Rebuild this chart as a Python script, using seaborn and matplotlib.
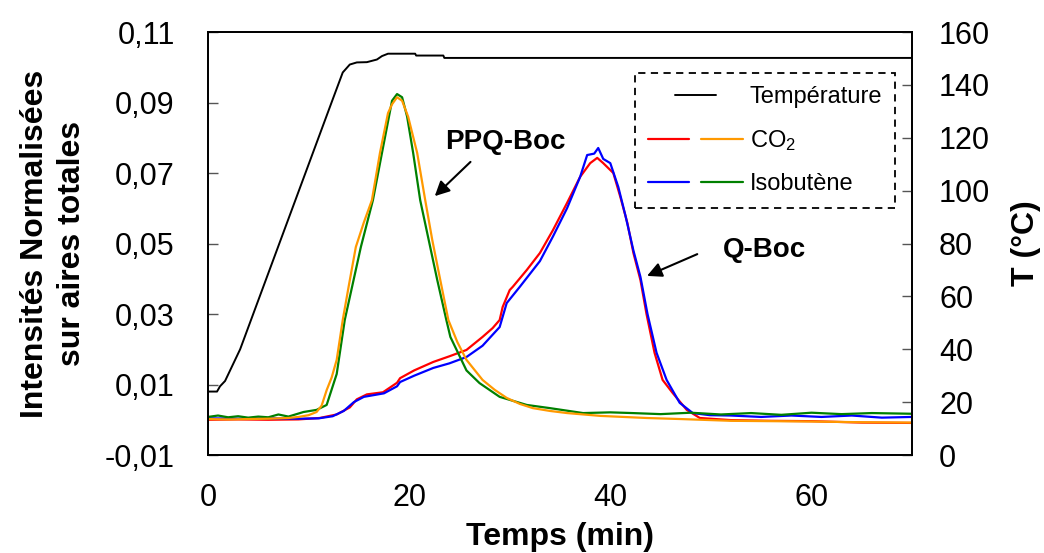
import matplotlib
matplotlib.use('Agg')
import matplotlib.pyplot as plt
import seaborn as sns
from matplotlib.lines import Line2D
from matplotlib.legend_handler import HandlerTuple, HandlerLine2D
from matplotlib.ticker import FuncFormatter

# temperature program (right axis, degC)
t_temp = [0, 0.9, 1.2, 1.7, 2.2, 2.7, 3.2, 12.4, 13.4, 14.1, 14.8, 15.8, 16.8, 17.3,
          17.9, 20.6, 20.7, 23.4, 23.5, 70]
temp = [24, 24, 26, 28, 32, 36, 40, 134.5, 144.7, 147.7, 148.5, 148.6, 149.6, 150.9,
        151.8, 151.8, 151.1, 151.1, 150.2, 150.2]

# CO2 from Q-Boc (red)
t_co2_q = [0, 3, 6, 9, 11.1, 12.8, 14.1, 14.8, 15.8, 17.4, 18.8, 19.1, 20.5, 22.4, 24,
           25.7, 27.3, 28.3, 29, 29.3, 30, 30.3, 31.7, 33, 34.3, 35.7, 37, 38, 38.7,
           39.3, 40.3, 41, 41.7, 42.3, 43, 43.6, 44.4, 45.2, 46.2, 47.6, 48.9, 52, 56,
           60, 65, 70]
co2_q = [0.0, 0.0001, 0.0, 0.0001, 0.0005, 0.0015, 0.0035, 0.0058, 0.0072, 0.0078,
         0.0105, 0.0118, 0.014, 0.0164, 0.018, 0.0198, 0.0235, 0.026, 0.0283, 0.032,
         0.0368, 0.0377, 0.0425, 0.0473, 0.0538, 0.0615, 0.0689, 0.0728, 0.0743, 0.0728,
         0.070, 0.0632, 0.0558, 0.0473, 0.0396, 0.030, 0.019, 0.0113, 0.0076, 0.0028,
         0.0005, -0.0001, -0.0003, -0.0004, -0.0008, -0.0009]

# isobutene from Q-Boc (blue)
t_iso_q = [0, 3, 6, 9, 11, 12.4, 13.5, 14.5, 15.5, 16.5, 17.5, 18.8, 19.1, 20.5, 22.4,
           24, 25.7, 27.3, 29, 29.7, 31, 33, 34.3, 35.7, 37, 37.7, 38.4, 38.8, 39.3, 40,
           40.8, 41.5, 42.3, 43, 43.7, 44.6, 45.6, 46.9, 48.2, 49.9, 52, 55, 58, 61, 64,
           67, 70]
iso_q = [0.0004, 0.0003, 0.0004, 0.0003, 0.0004, 0.001, 0.0025, 0.005, 0.0065, 0.007,
         0.0075, 0.0095, 0.0107, 0.0125, 0.0147, 0.016, 0.0178, 0.021, 0.0263, 0.0331,
         0.0377, 0.045, 0.052, 0.060, 0.0689, 0.0751, 0.0755, 0.0771, 0.074, 0.0728,
         0.066, 0.058, 0.048, 0.0405, 0.030, 0.019, 0.0113, 0.0048, 0.0019, 0.0013,
         0.0012, 0.0008, 0.0012, 0.0008, 0.0012, 0.0006, 0.0008]

# CO2 from PPQ-Boc (orange)
t_co2_p = [0, 2, 4, 6, 8, 9, 10, 10.8, 11.3, 11.8, 12.3, 12.8, 13.4, 14.0, 14.7, 15.5,
           16.3, 17.1, 17.9, 18.3, 18.8, 19.3, 19.9, 20.8, 21.6, 22.3, 23.1, 23.9, 24.8,
           25.7, 27.3, 28.5, 29.7, 31, 32.3, 34, 35.7, 39, 43.6, 47, 52, 60, 65, 70]
co2_p = [0.0002, 0.0001, 0.0002, 0.0003, 0.0005, 0.0008, 0.0013, 0.0022, 0.004, 0.0084,
         0.012, 0.017, 0.0283, 0.038, 0.049, 0.056, 0.0623, 0.0757, 0.087, 0.0895,
         0.0915, 0.0905, 0.086, 0.0757, 0.0623, 0.051, 0.0396, 0.0283, 0.022, 0.017,
         0.0113, 0.0085, 0.0062, 0.0045, 0.0033, 0.0025, 0.0019, 0.0011, 0.0005, 0.0002,
         -0.0003, -0.0005, -0.0007, -0.0008]

# isobutene from PPQ-Boc (green)
t_iso_p = [0, 1, 2, 3, 4, 5, 6, 7, 8, 9.5, 10.8, 11.8, 12.8, 13.6, 15.2, 16.4, 17.3,
           18.3, 18.8, 19.3, 19.8, 20.4, 21.1, 22.8, 23.7, 24.1, 25.7, 27, 29, 31.7, 34,
           37.3, 40, 42.2, 45, 48, 51, 54, 57, 60, 63, 66, 70]
iso_p = [0.0008, 0.0012, 0.0007, 0.001, 0.0006, 0.0009, 0.0007, 0.0015, 0.0009, 0.0022,
         0.0028, 0.0042, 0.013, 0.0283, 0.049, 0.0623, 0.0757, 0.0905, 0.0924, 0.0915,
         0.086, 0.0757, 0.0623, 0.0396, 0.0283, 0.0235, 0.014, 0.0104, 0.0065, 0.0042,
         0.0033, 0.0019, 0.0021, 0.0019, 0.0016, 0.002, 0.0015, 0.0019, 0.0014, 0.002,
         0.0016, 0.0019, 0.0017]

left_ticks = [-0.01, 0.01, 0.03, 0.05, 0.07, 0.09, 0.11]
right_ticks = [0, 20, 40, 60, 80, 100, 120, 140, 160]
x_ticks = [0, 20, 40, 60]


class ShortLine(HandlerLine2D):
    # shorter legend line, centred in the handle box
    def create_artists(self, legend, orig_handle, xdescent, ydescent, width, height, fontsize, trans):
        w = 0.43 * width
        return super().create_artists(legend, orig_handle, xdescent - (width - w) / 2,
                                      ydescent, w, height, fontsize, trans)


sns.set_style('white')
plt.rcParams['font.family'] = ['Liberation Sans', 'DejaVu Sans']
plt.rcParams['mathtext.default'] = 'regular'
plt.rcParams['text.color'] = 'black'
plt.rcParams['axes.labelcolor'] = 'black'

fig = plt.figure(figsize=(10.44, 5.53), dpi=100)
ax = fig.add_axes([0.1992, 0.1772, 0.6744, 0.7649])
ax2 = ax.twinx()

lw = 1.6
sns.lineplot(x=t_co2_q, y=co2_q, ax=ax, color='#ff0000', lw=lw, legend=False)
sns.lineplot(x=t_iso_q, y=iso_q, ax=ax, color='#0000ff', lw=lw, legend=False)
sns.lineplot(x=t_iso_p, y=iso_p, ax=ax, color='#008000', lw=lw, legend=False)
sns.lineplot(x=t_co2_p, y=co2_p, ax=ax, color='#ff9900', lw=lw, legend=False)
sns.lineplot(x=t_temp, y=temp, ax=ax2, color='black', lw=1.4, legend=False)

ax.set_xlim(0, 70)
ax.set_ylim(-0.01, 0.11)
ax2.set_ylim(0, 160)
ax.set_xticks(x_ticks)
ax.set_yticks(left_ticks)
ax2.set_yticks(right_ticks)
ax.yaxis.set_major_formatter(FuncFormatter(lambda v, p: f'{v:.2f}'.replace('.', ',')))

ax.tick_params(axis='both', direction='in', length=7, width=1, color='#555555',
               labelcolor='black', labelsize=22, top=False, right=False)
ax.tick_params(axis='x', pad=20)
ax.tick_params(axis='y', pad=24)
ax2.tick_params(axis='y', direction='in', length=7, width=1, color='#555555',
                labelcolor='black', labelsize=22, pad=19.5)

for a in (ax, ax2):
    for s in a.spines.values():
        s.set_color('black')
        s.set_linewidth(1.3)

ax.set_xlabel('Temps (min)', fontsize=23, fontweight='bold')
ax.xaxis.set_label_coords(0.5, -0.158)
ax.set_ylabel('Intensités Normalisées\nsur aires totales', fontsize=23,
              fontweight='bold', linespacing=1.3)
ax.yaxis.set_label_coords(-0.172, 0.5)
ax2.set_ylabel('T (°C)', fontsize=23, fontweight='bold')
ax2.yaxis.set_label_coords(1.14, 0.5)

# peak labels with arrows
ax.text(29.6, 0.0788, 'PPQ-Boc', fontsize=20, fontweight='bold', ha='center', va='center')
ax.annotate('', xy=(22.35, 0.0629), xytext=(26.3, 0.0737),
            arrowprops=dict(arrowstyle='-|>', color='black', lw=1.5, mutation_scale=22))
ax.text(55.3, 0.0482, 'Q-Boc', fontsize=20, fontweight='bold', ha='center', va='center')
ax.annotate('', xy=(43.4, 0.0405), xytext=(48.9, 0.0473),
            arrowprops=dict(arrowstyle='-|>', color='black', lw=1.5, mutation_scale=22))

h_t = Line2D([], [], color='black', lw=1.4)
h_r = Line2D([], [], color='#ff0000', lw=lw)
h_o = Line2D([], [], color='#ff9900', lw=lw)
h_b = Line2D([], [], color='#0000ff', lw=lw)
h_g = Line2D([], [], color='#008000', lw=lw)
leg = ax2.legend([h_t, (h_r, h_o), (h_b, h_g)], ['Température', 'CO$_2$', 'Isobutène'],
                 handler_map={h_t: ShortLine(), tuple: HandlerTuple(ndivide=None, pad=0.5)},
                 loc='upper right', bbox_to_anchor=(0.976, 0.903), borderaxespad=0,
                 fontsize=17, handlelength=4.0, handletextpad=0.3, labelspacing=0.85,
                 borderpad=0.55, frameon=True, fancybox=False, framealpha=1)
leg.get_frame().set_edgecolor('black')
leg.get_frame().set_linestyle((0, (4, 3)))
leg.get_frame().set_linewidth(1.3)

fig.savefig('out.png', dpi=100)
